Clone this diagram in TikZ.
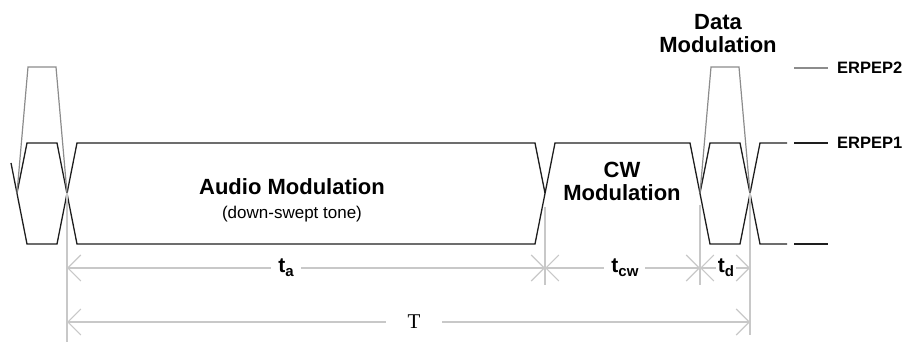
\documentclass[tikz,border=0pt]{standalone}
\usepackage{fontspec}
\setmainfont{Liberation Sans}
\newfontfamily\timesfont{Liberation Serif}
\usepackage{xcolor}
\usepackage{tikz}
\usetikzlibrary{arrows.meta,positioning}
\definecolor{envblack}{HTML}{1E1E1E}
\definecolor{peakgray}{HTML}{8C8C8C}
\definecolor{dimgray}{HTML}{C8C8C8}
\tikzset{
	envelope/.style={draw=envblack, line width=1.3pt},
	peak/.style={draw=peakgray, line width=1.2pt},
	extline/.style={draw=dimgray, line width=1.1pt},
	dimline/.style={draw=dimgray, line width=1.1pt, {Straight Barb[length=13pt,width=26pt]}-{Straight Barb[length=13pt,width=26pt]}},
	dimlabel/.style={fill=white, inner ysep=3pt, inner xsep=7pt, font=\fontsize{21}{21}\selectfont\bfseries},
	modlabel/.style={font=\fontsize{22}{23}\selectfont\bfseries, align=center, inner sep=0pt},
	sublabel/.style={font=\fontsize{17}{19}\selectfont, inner sep=0pt},
	levellabel/.style={font=\fontsize{16.5}{18}\selectfont\bfseries, anchor=west, inner sep=0pt}
}
\newcommand{\tsub}[1]{t\raisebox{-4pt}{\fontsize{15}{15}\selectfont #1}}
\newcommand{\drawdim}[4]{
	\draw[dimline] (#1) -- node[dimlabel, pos=#4] (#1-#2) {#3} (#2);
}

\begin{document}
\begin{tikzpicture}[x=1pt, y=-1pt]
	\useasboundingbox (0,0) rectangle (907,344);

	% crossing points of the envelope
	\coordinate (xa) at (17,193);
	\coordinate (xb) at (67,193);
	\coordinate (xc) at (545,193);
	\coordinate (xd) at (700,193);
	\coordinate (xe) at (750,193);

	% ERPEP1 envelope
	\draw[envelope] (xa) -- (27,143) -- (57,143) -- (77,244) -- (535,244) -- (555,143)
		-- (690,143) -- (710,244) -- (740,244) -- (760,143) -- (787,143);
	\draw[envelope] (11,163) -- (27,244) -- (57,244) -- (77,143) -- (535,143) -- (xc);
	\draw[envelope] (xd) -- (710,143) -- (740,143) -- (760,244) -- (787,244);

	% ERPEP2 peaks
	\draw[peak] (xa) -- (28,67) -- (56,67) -- (xb);
	\draw[peak] (xd) -- (711,67) -- (739,67) -- (xe);

	% level keys
	\coordinate (k2a) at (794,68);  \coordinate (k2b) at (828,68);
	\coordinate (k1a) at (794,143); \coordinate (k1b) at (828,143);
	\coordinate (k0a) at (794,244); \coordinate (k0b) at (828,244);
	\draw[peak] (k2a) -- (k2b);
	\draw[envelope] (k1a) -- (k1b);
	\draw[envelope] (k0a) -- (k0b);
	\node[levellabel] (erpep2) at (837,68) {ERPEP2};
	\node[levellabel] (erpep1) at (837,143) {ERPEP1};

	% segment labels
	\node[modlabel] (audio) at (292,187) {Audio Modulation};
	\node[sublabel] (tone) at (292,214) {(down-swept tone)};
	\node[modlabel] (cw) at (622,181.6) {CW\\Modulation};
	\node[modlabel] (data) at (718,34) {Data\\Modulation};

	% extension lines
	\coordinate (ea) at (67,342);
	\coordinate (ec0) at (545,207); \coordinate (ec) at (545,285);
	\coordinate (ed0) at (700,205); \coordinate (ed) at (700,285);
	\coordinate (ee) at (750,335);
	\draw[extline] (xb) -- (ea);
	\draw[extline] (ec0) -- (ec);
	\draw[extline] (ed0) -- (ed);
	\draw[extline] (xe) -- (ee);

	% dimensions
	\coordinate (da) at (67,268);
	\coordinate (dc) at (545,268);
	\coordinate (dd) at (700,268);
	\coordinate (de) at (750,268);
	\coordinate (Ta) at (67,322);
	\coordinate (Te) at (750,322);
	\drawdim{da}{dc}{\tsub{a}}{0.458}
	\drawdim{dc}{dd}{\tsub{cw}}{0.516}
	\draw[dimline] (dd) -- node[dimlabel, pos=0.52, inner xsep=2pt] (dd-de) {\tsub{d}} (de);
	\draw[dimline] (Ta) -- node[dimlabel, pos=0.508, inner xsep=22pt, font=\timesfont\fontsize{21}{21}\selectfont] (period) {T} (Te);
\end{tikzpicture}
\end{document}
